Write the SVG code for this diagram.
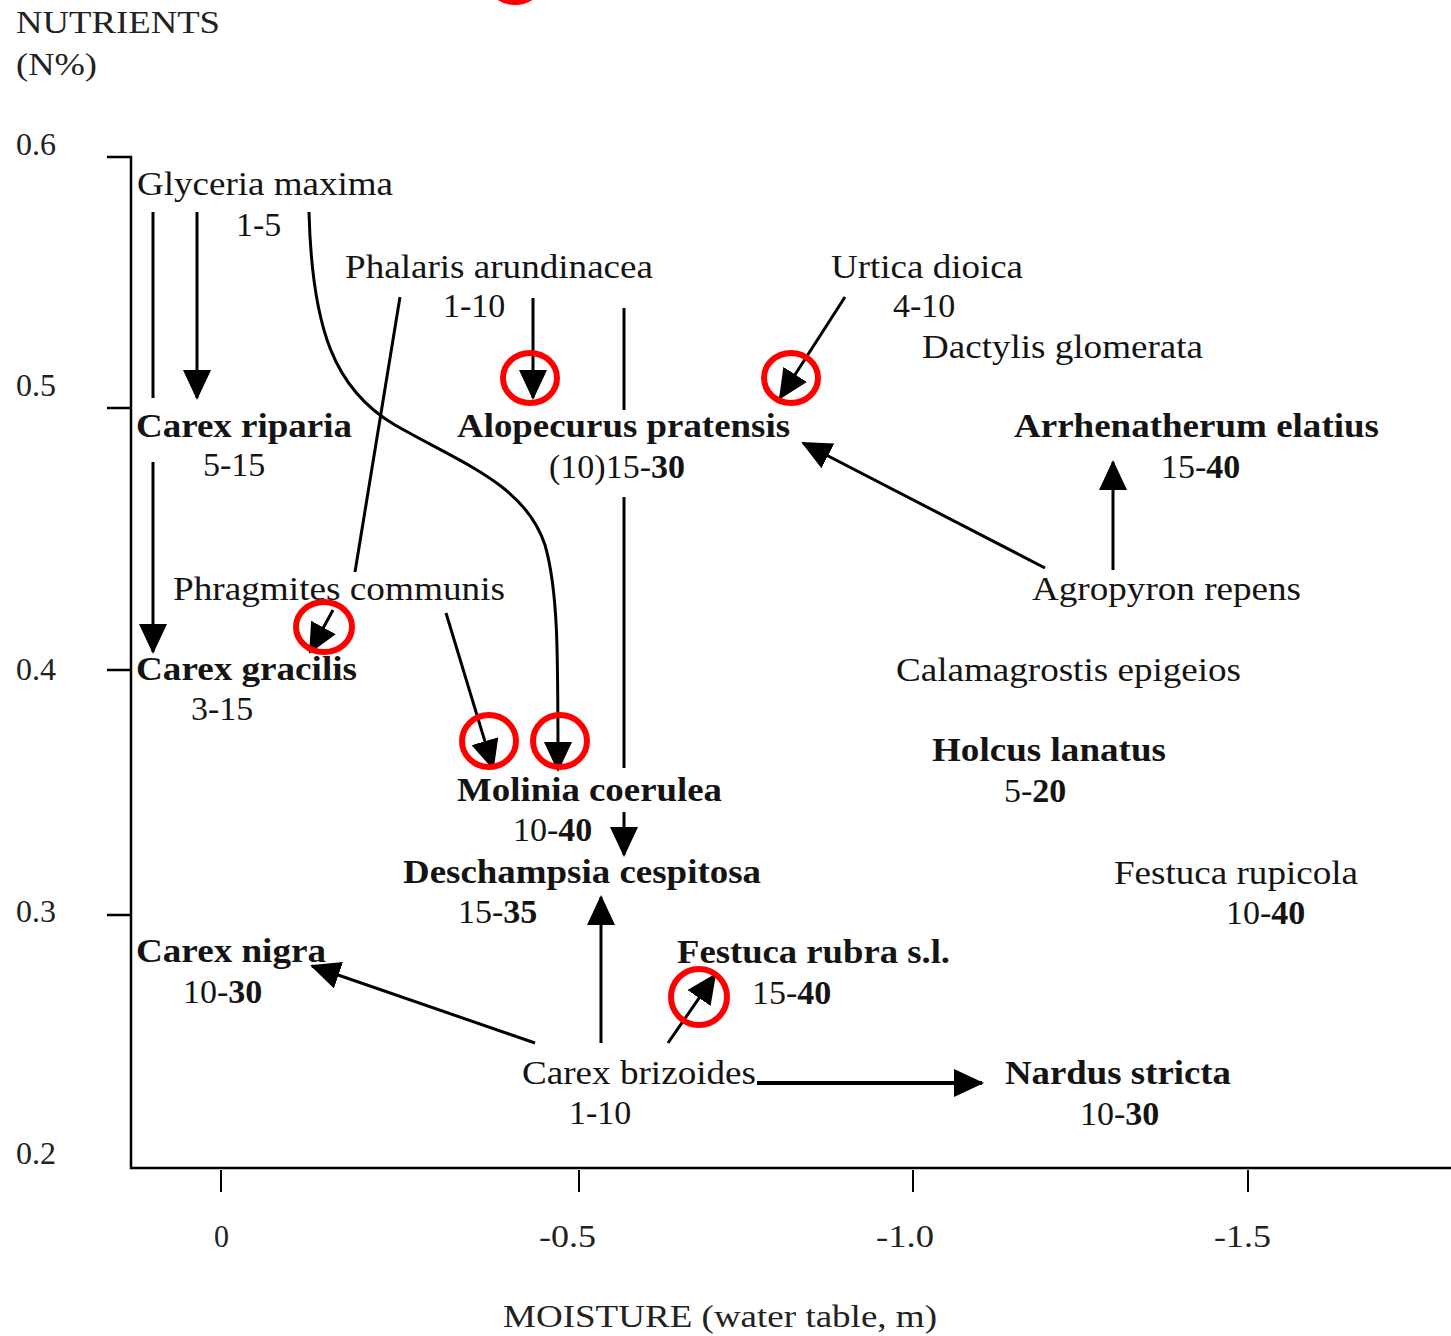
<svg xmlns="http://www.w3.org/2000/svg" width="1451" height="1336" viewBox="0 0 1451 1336">
<defs>
<style>
.t{font-family:"Liberation Serif","Times New Roman",serif;font-size:34px;fill:#141414}
.b{font-weight:bold}
.ax{font-family:"Liberation Serif","Times New Roman",serif;font-size:32px;fill:#222}
.ln{stroke:#000;stroke-width:3;fill:none}
.axis{stroke:#000;stroke-width:2.5;fill:none}
.hl{stroke:#ff0000;stroke-width:6;fill:none}
</style>
<marker id="ah" markerUnits="userSpaceOnUse" markerWidth="30" markerHeight="28" viewBox="0 0 30 28" refX="28" refY="14" orient="auto">
<path d="M0,0 L30,14 L0,28 z" fill="#000"/>
</marker>
</defs>
<rect width="1451" height="1336" fill="#fff"/>

<g id="top-fragment">
<ellipse class="hl" cx="515" cy="-24" rx="28" ry="26"/>
</g>

<g id="axes">
<text class="ax" x="16" y="33" textLength="204" lengthAdjust="spacingAndGlyphs">NUTRIENTS</text>
<text class="ax" x="16" y="75" textLength="81" lengthAdjust="spacingAndGlyphs">(N%)</text>
<text class="ax" x="16" y="155">0.6</text>
<text class="ax" x="16" y="396">0.5</text>
<text class="ax" x="16" y="680">0.4</text>
<text class="ax" x="16" y="922">0.3</text>
<text class="ax" x="16" y="1164">0.2</text>
<path class="axis" d="M107,157 H131 V1168 H1451"/>
<path class="axis" d="M107,408 H131 M107,670 H131 M107,915 H131"/>
<path class="axis" d="M221,1170 V1192 M579,1170 V1192 M913,1170 V1192 M1248,1170 V1192" style="stroke-width:2"/>
<text class="ax" x="214" y="1247" textLength="15" lengthAdjust="spacingAndGlyphs">0</text>
<text class="ax" x="539" y="1247" textLength="57" lengthAdjust="spacingAndGlyphs">-0.5</text>
<text class="ax" x="876" y="1247" textLength="58" lengthAdjust="spacingAndGlyphs">-1.0</text>
<text class="ax" x="1214" y="1247" textLength="57" lengthAdjust="spacingAndGlyphs">-1.5</text>
<text class="ax" x="503" y="1327" textLength="434" lengthAdjust="spacingAndGlyphs">MOISTURE (water table, m)</text>
</g>

<g id="connectors">
<line class="ln" x1="153" y1="212" x2="153" y2="398"/>
<line class="ln" x1="197" y1="212" x2="197" y2="398" marker-end="url(#ah)"/>
<line class="ln" x1="153" y1="462" x2="153" y2="652" marker-end="url(#ah)"/>
<path class="ln" d="M309,212 C312,330 335,390 395,425 C465,465 525,485 545,545 C558,590 558,650 558,770" marker-end="url(#ah)"/>
<line class="ln" x1="400" y1="297" x2="355" y2="572"/>
<line class="ln" x1="533" y1="298" x2="533" y2="398" marker-end="url(#ah)"/>
<line class="ln" x1="624" y1="308" x2="624" y2="410"/>
<line class="ln" x1="624" y1="497" x2="624" y2="768"/>
<line class="ln" x1="624" y1="812" x2="624" y2="855" marker-end="url(#ah)"/>
<line class="ln" x1="845" y1="297" x2="780" y2="398" marker-end="url(#ah)"/>
<line class="ln" x1="1045" y1="568" x2="803" y2="443" marker-end="url(#ah)"/>
<line class="ln" x1="1113" y1="570" x2="1113" y2="462" marker-end="url(#ah)"/>
<line class="ln" x1="333" y1="610" x2="310" y2="652" marker-end="url(#ah)"/>
<line class="ln" x1="446" y1="613" x2="493" y2="768" marker-end="url(#ah)"/>
<line class="ln" x1="535" y1="1043" x2="312" y2="966" marker-end="url(#ah)"/>
<line class="ln" x1="601" y1="1043" x2="601" y2="897" marker-end="url(#ah)"/>
<line class="ln" x1="668" y1="1043" x2="715" y2="975" marker-end="url(#ah)"/>
<line class="ln" x1="757" y1="1083" x2="982" y2="1083" style="stroke-width:4" marker-end="url(#ah)"/>
</g>

<g id="glyceria-maxima"><text class="t" x="137" y="195" textLength="256" lengthAdjust="spacingAndGlyphs">Glyceria maxima</text><text class="t" x="236" y="236">1-5</text></g>
<g id="phalaris-arundinacea"><text class="t" x="345" y="278" textLength="308" lengthAdjust="spacingAndGlyphs">Phalaris arundinacea</text><text class="t" x="443" y="317">1-10</text></g>
<g id="urtica-dioica"><text class="t" x="831" y="278" textLength="192" lengthAdjust="spacingAndGlyphs">Urtica dioica</text><text class="t" x="893" y="317">4-10</text></g>
<g id="dactylis-glomerata"><text class="t" x="922" y="358" textLength="281" lengthAdjust="spacingAndGlyphs">Dactylis glomerata</text></g>
<g id="carex-riparia"><text class="t b" x="136" y="437" textLength="216" lengthAdjust="spacingAndGlyphs">Carex riparia</text><text class="t" x="203" y="476">5-15</text></g>
<g id="alopecurus-pratensis"><text class="t b" x="457" y="437" textLength="333" lengthAdjust="spacingAndGlyphs">Alopecurus pratensis</text><text class="t" x="549" y="478">(10)15-<tspan class="b">30</tspan></text></g>
<g id="arrhenatherum-elatius"><text class="t b" x="1014" y="437" textLength="365" lengthAdjust="spacingAndGlyphs">Arrhenatherum elatius</text><text class="t" x="1161" y="478">15-<tspan class="b">40</tspan></text></g>
<g id="phragmites-communis"><text class="t" x="173" y="600" textLength="332" lengthAdjust="spacingAndGlyphs">Phragmites communis</text></g>
<g id="agropyron-repens"><text class="t" x="1032" y="600" textLength="269" lengthAdjust="spacingAndGlyphs">Agropyron repens</text></g>
<g id="carex-gracilis"><text class="t b" x="136" y="680" textLength="221" lengthAdjust="spacingAndGlyphs">Carex gracilis</text><text class="t" x="191" y="720">3-15</text></g>
<g id="calamagrostis-epigeios"><text class="t" x="896" y="681" textLength="345" lengthAdjust="spacingAndGlyphs">Calamagrostis epigeios</text></g>
<g id="holcus-lanatus"><text class="t b" x="932" y="761" textLength="234" lengthAdjust="spacingAndGlyphs">Holcus lanatus</text><text class="t" x="1004" y="802">5-<tspan class="b">20</tspan></text></g>
<g id="molinia-coerulea"><text class="t b" x="457" y="801" textLength="265" lengthAdjust="spacingAndGlyphs">Molinia coerulea</text><text class="t" x="513" y="841">10-<tspan class="b">40</tspan></text></g>
<g id="deschampsia-cespitosa"><text class="t b" x="403" y="883" textLength="358" lengthAdjust="spacingAndGlyphs">Deschampsia cespitosa</text><text class="t" x="458" y="923">15-<tspan class="b">35</tspan></text></g>
<g id="festuca-rupicola"><text class="t" x="1114" y="884" textLength="244" lengthAdjust="spacingAndGlyphs">Festuca rupicola</text><text class="t" x="1226" y="924">10-<tspan class="b">40</tspan></text></g>
<g id="carex-nigra"><text class="t b" x="136" y="962" textLength="190" lengthAdjust="spacingAndGlyphs">Carex nigra</text><text class="t" x="183" y="1003">10-<tspan class="b">30</tspan></text></g>
<g id="festuca-rubra"><text class="t b" x="677" y="963" textLength="273" lengthAdjust="spacingAndGlyphs">Festuca rubra s.l.</text><text class="t" x="752" y="1004">15-<tspan class="b">40</tspan></text></g>
<g id="carex-brizoides"><text class="t" x="522" y="1084" textLength="234" lengthAdjust="spacingAndGlyphs">Carex brizoides</text><text class="t" x="569" y="1124">1-10</text></g>
<g id="nardus-stricta"><text class="t b" x="1005" y="1084" textLength="226" lengthAdjust="spacingAndGlyphs">Nardus stricta</text><text class="t" x="1080" y="1125">10-<tspan class="b">30</tspan></text></g>

<g id="highlights">
<ellipse class="hl" cx="530" cy="378" rx="27" ry="25"/>
<ellipse class="hl" cx="791" cy="378" rx="27" ry="25"/>
<ellipse class="hl" cx="324" cy="627" rx="28" ry="25"/>
<ellipse class="hl" cx="489" cy="741" rx="27" ry="26"/>
<ellipse class="hl" cx="560" cy="741" rx="27" ry="26"/>
<ellipse class="hl" cx="699" cy="997" rx="28" ry="28"/>
</g>
</svg>
